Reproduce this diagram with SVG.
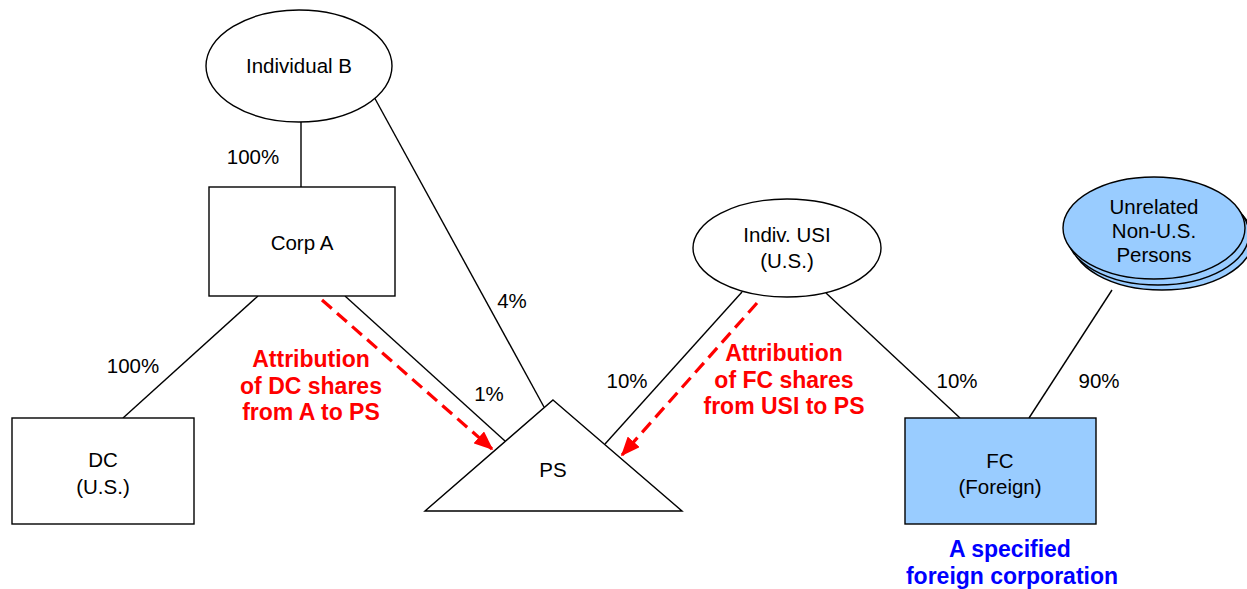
<svg xmlns="http://www.w3.org/2000/svg" width="1247" height="589" viewBox="0 0 1247 589">
<style>
.sh{stroke:#000;stroke-width:1.4;}
.w{fill:#fff;}
.b{fill:#99ccff;}
.ln{stroke:#000;stroke-width:1.4;fill:none;}
.rd{stroke:#ff0000;stroke-width:3.2;fill:none;stroke-dasharray:13 7;}
text{font-family:"Liberation Sans",Arial,sans-serif;text-anchor:middle;}
.t{font-size:20.5px;fill:#000;}
.r{font-size:23px;font-weight:bold;fill:#ff0000;}
.bl{font-size:23px;font-weight:bold;fill:#0000ff;}
</style>
<defs>
<marker id="ah" markerWidth="6" markerHeight="5" refX="5.5" refY="2.5" orient="auto" markerUnits="strokeWidth">
<path d="M0,0 L6,2.5 L0,5 Z" fill="#ff0000"/>
</marker>
</defs>
<rect width="1247" height="589" fill="#fff"/>
<g id="connectors">
<line class="ln" x1="301" y1="122" x2="301" y2="187"/>
<line class="ln" x1="258" y1="296" x2="123" y2="418"/>
<line class="ln" x1="345" y1="296" x2="505" y2="441"/>
<line class="ln" x1="373" y1="95" x2="544" y2="407"/>
<line class="ln" x1="742" y1="292" x2="605" y2="444"/>
<line class="ln" x1="826" y1="293" x2="960" y2="418"/>
<line class="ln" x1="1029" y1="418" x2="1112" y2="290"/>
<line class="rd" x1="322" y1="300" x2="492" y2="449" marker-end="url(#ah)"/>
<line class="rd" x1="757" y1="303" x2="622" y2="455" marker-end="url(#ah)"/>
</g>
<g id="individual-b">
<ellipse class="sh w" cx="299" cy="66" rx="93" ry="56"/>
<text class="t" x="299" y="73">Individual B</text>
</g>
<g id="corp-a">
<rect class="sh w" x="209" y="187" width="186" height="109"/>
<text class="t" x="302" y="250">Corp A</text>
</g>
<g id="dc">
<rect class="sh w" x="12" y="418" width="182" height="106"/>
<text class="t" x="103" y="467">DC</text>
<text class="t" x="103" y="494">(U.S.)</text>
</g>
<g id="ps">
<polygon class="sh w" points="553,400 682,511 425,511"/>
<text class="t" x="553" y="477">PS</text>
</g>
<g id="indiv-usi">
<ellipse class="sh w" cx="787" cy="248" rx="94" ry="49"/>
<text class="t" x="787" y="242">Indiv. USI</text>
<text class="t" x="787" y="268">(U.S.)</text>
</g>
<g id="fc">
<rect class="sh b" x="905" y="418" width="191" height="106"/>
<text class="t" x="1000" y="468">FC</text>
<text class="t" x="1000" y="494">(Foreign)</text>
</g>
<g id="unrelated">
<ellipse class="sh b" cx="1162" cy="239" rx="91" ry="51"/>
<ellipse class="sh b" cx="1158" cy="234" rx="91" ry="51"/>
<ellipse class="sh b" cx="1154" cy="228" rx="91" ry="51"/>
<text class="t" x="1154" y="214">Unrelated</text>
<text class="t" x="1154" y="238">Non-U.S.</text>
<text class="t" x="1154" y="262">Persons</text>
</g>
<g id="labels">
<text class="t" x="253" y="164">100%</text>
<text class="t" x="133" y="373">100%</text>
<text class="t" x="512" y="308">4%</text>
<text class="t" x="489" y="401">1%</text>
<text class="t" x="627" y="388">10%</text>
<text class="t" x="957" y="388">10%</text>
<text class="t" x="1099" y="388">90%</text>
<text class="r" x="311" y="367">Attribution</text>
<text class="r" x="311" y="394">of DC shares</text>
<text class="r" x="311" y="420">from A to PS</text>
<text class="r" x="784" y="361">Attribution</text>
<text class="r" x="784" y="388">of FC shares</text>
<text class="r" x="784" y="414">from USI to PS</text>
<text class="bl" x="1010" y="557">A specified</text>
<text class="bl" x="1012" y="584">foreign corporation</text>
</g>
</svg>
